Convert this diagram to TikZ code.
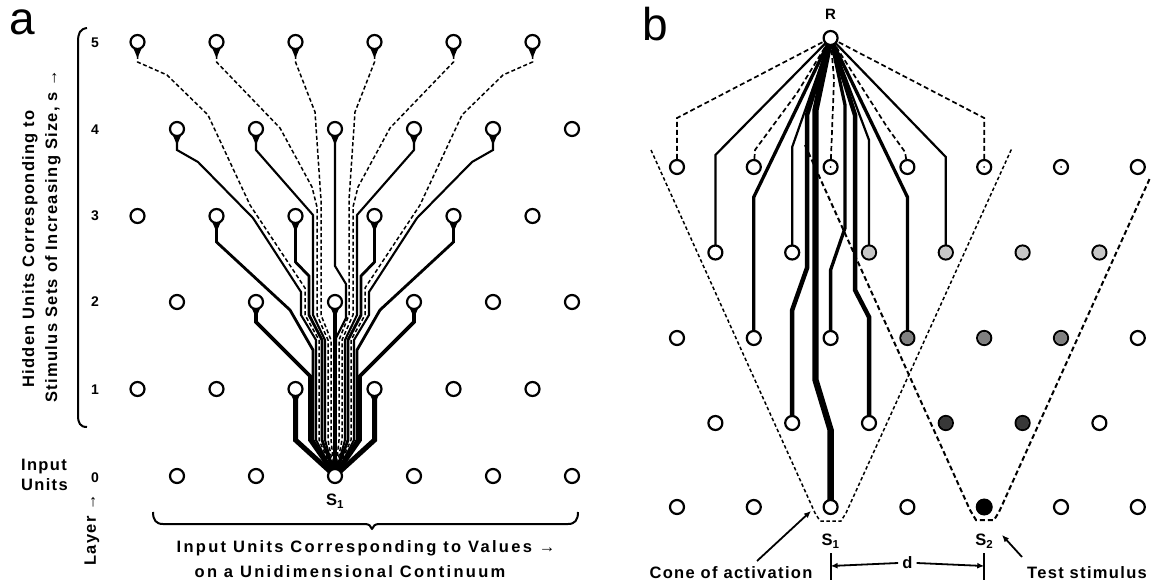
\documentclass[tikz,border=0pt]{standalone}
\usepackage{fontspec}
\setmainfont{Liberation Sans}
\newfontfamily\labfont[LetterSpace=8]{Liberation Sans}
\newfontfamily\labwide[LetterSpace=14]{Liberation Sans}
\usetikzlibrary{arrows.meta,backgrounds}
\pgfdeclarelayer{lines}
\pgfsetlayers{lines,main}
\tikzset{
 unit/.style={circle,draw,line width=2.2pt,minimum size=14pt,inner sep=0pt,fill=white},
 wA1/.style={line width=5pt},
 wA2/.style={line width=3.8pt},
 wA3/.style={line width=2.8pt},
 wA4/.style={line width=2.1pt},
 wA5/.style={line width=1.5pt,dash pattern=on 4pt off 2.5pt},
 wBA/.style={line width=1.7pt,dash pattern=on 5pt off 3pt},
 wBB/.style={line width=2.2pt},
 wBC/.style={line width=3.3pt},
 wBD/.style={line width=4.5pt},
 wBE/.style={line width=6.3pt},
 cone/.style={line width=1.5pt,dash pattern=on 3.5pt off 2.5pt},
 coneb/.style={line width=2pt,dash pattern=on 5pt off 3pt},
 lab/.style={font=\labfont\bfseries\fontsize{16.5}{20}\selectfont,inner sep=0pt},
 labw/.style={font=\labwide\bfseries\fontsize{16.5}{20}\selectfont,inner sep=0pt},
 num/.style={font=\bfseries\fontsize{14}{14}\selectfont,inner sep=0pt},
 ann/.style={line width=1.8pt,-{Latex[length=7pt,width=6pt]}},
}
\newcommand\mkpathsA[9]{%
 \draw[wA1] (#1.center) -- (295.5,440) -- (a02.center);
 \draw[wA2] (#2.center) -- (256,322) -- (310,376) -- (310,440) -- (a02.center);
 \draw[wA3] (#3.center) -- (216.5,242) -- (290,310) -- (313,350) -- (313,440) -- (a02.center);
 \draw[wA3] (#4.center) -- (295.5,262) -- (309,276) -- (309,315) -- (322,340) -- (322,440) -- (a02.center);
 \draw[wA4] (#5.center) -- (177,150) -- (198,162) -- (253,218) -- (301,292) -- (301,315) -- (316,340) -- (316,440) -- (a02.center);
 \draw[wA4] (#6.center) -- (256,150) -- (313,215) -- (313,315) -- (325,340) -- (325,440) -- (a02.center);
 \draw[wA5] (#7.center) -- (137.5,62) -- (167,75) -- (208,115) -- (250,205) -- (305,288) -- (305,315) -- (319,340) -- (319,440) -- (a02.center);
 \draw[wA5] (#8.center) -- (216.5,62) -- (280,128) -- (312,187) -- (317,207) -- (317,315) -- (328,340) -- (328,440) -- (a02.center);
 \draw[wA5] (#9.center) -- (295.5,62) -- (315,112) -- (321,200) -- (321,315) -- (331,340) -- (331,440) -- (a02.center);
}
\begin{document}
\begin{tikzpicture}[x=1pt,y=-1pt,line join=round]
\begin{pgfonlayer}{lines}
\fill[white] (0,0) rectangle (1155,585);
\end{pgfonlayer}
\useasboundingbox (0,0) rectangle (1155,585);

% ---------------- panel a : units ----------------
\foreach \s/\yy in {0/476,2/302,4/129}{
  \foreach \k in {0,...,5}{ \node[unit] (a\s\k) at ({177+79*\k},\yy) {}; }}
\foreach \s/\yy in {1/389,3/216,5/42}{
  \foreach \k in {0,...,5}{ \node[unit] (a\s\k) at ({137.5+79*\k},\yy) {}; }}

% arrowheads below connected hidden units
\foreach \n in {a12,a13,a21,a22,a23,a31,a32,a33,a34,a40,a41,a42,a43,a44,a50,a51,a52,a53,a54,a55}{
  \fill (\n.south) ++(-4,-1.5) -- ++(8,0) -- ++(-4,9.5) -- cycle;}

\begin{pgfonlayer}{lines}
\mkpathsA{a12}{a21}{a31}{a32}{a40}{a41}{a50}{a51}{a52}
\begin{scope}[shift={(670,0)},xscale=-1]
\mkpathsA{a13}{a23}{a34}{a33}{a44}{a43}{a55}{a54}{a53}
\end{scope}
\draw[wA2] (a22.center) -- (a02.center);
\draw[wA4] (a42.center) -- (335,266) -- (346,284) -- (346,318) -- (336,338) -- (a02.center);
\end{pgfonlayer}

% bracket and brace
\draw[line width=2pt] (87,28) .. controls (80,29) and (78,33) .. (78,42) -- (78,415) .. controls (78,423) and (80,427) .. (87,427);
\draw[line width=2pt] (153,512) .. controls (153,520) and (156,524) .. (163,524) -- (365,524) .. controls (369,524) and (371,526) .. (372,529) .. controls (373,526) and (375,524) .. (379,524) -- (568,524) .. controls (575,524) and (578,520) .. (578,512);

% texts panel a
\node[font=\fontsize{46}{46}\selectfont,inner sep=0pt] (la) at (22,22) {a};
\foreach \d/\yy in {5/43,4/130,3/216,2/302,1/390,0/478}{ \node[num] (n\d) at (95,\yy) {\d}; }
\node[lab,rotate=90] (t1) at (30,249) {Hidden Units Corresponding to};
\node[lab,rotate=90] (t2) at (53,236) {Stimulus Sets of Increasing Size, s →};
\node[lab,align=left,anchor=west] (t3) at (21,475) {Input\\Units};
\node[lab,rotate=90] (t4) at (92,530) {Layer →};
\node[labw] (t5) at (366,548) {Input Units Corresponding to Values →};
\node[labw] (t6) at (350,572) {on a Unidimensional Continuum};
\node[lab] (s1a) at (335,501) {S\textsubscript{1}};

% ---------------- panel b : units ----------------
\foreach \r/\yy in {A/167,C/338,E/507}{
  \foreach \k in {0,...,6}{ \node[unit] (b\r\k) at ({677+76.8*\k},\yy) {}; }}
\foreach \r/\yy in {B/252.5,D/423}{
  \foreach \k in {0,...,5}{ \node[unit] (b\r\k) at ({715.4+76.8*\k},\yy) {}; }}
\node[unit] (R) at (830.6,38) {};
\foreach \n in {bA2,bA4,bA5}{ \fill (\n.center) circle (1); }
\foreach \n in {bB2,bB3,bB4,bB5}{ \fill[black!22] (\n.center) circle (6); }
\foreach \n in {bC3,bC4,bC5}{ \fill[black!50] (\n.center) circle (6); }
\foreach \n in {bD3,bD4}{ \fill[black!78] (\n.center) circle (6.2); }
\fill (bE4.center) circle (8.5);

\begin{pgfonlayer}{lines}
% cones
\draw[cone] (651,150) -- (815,513) -- (820,521) -- (841,521) -- (846,513) -- (1012,148);
\draw[coneb] (805,145) -- (970,510) -- (976,520) -- (994,520) -- (999,512) -- (1150,178);
% connections to R
\draw[wBA] (bA0.center) -- (677,118) -- (R.center);
\draw[wBA] (bA1.center) -- (755,150) -- (797,93) -- (R.center);
\draw[wBA] (bA2.center) -- (834,80) -- (R.center);
\draw[wBA] (bA3.center) -- (905,152) -- (887,127) -- (R.center);
\draw[wBA] (bA4.center) -- (984.2,118) -- (R.center);
\draw[wBB] (bB0.center) -- (715.4,155) -- (R.center);
\draw[wBB] (bB1.center) -- (792.2,147) -- (R.center);
\draw[wBB] (bB2.center) -- (869,140) -- (R.center);
\draw[wBB] (bB3.center) -- (945.8,157) -- (R.center);
\draw[wBC] (bC1.center) -- (753.8,197) -- (R.center);
\draw[wBC] (bC2.center) -- (830.6,270) -- (845,228) -- (845,105) -- (R.center);
\draw[wBC] (bC3.center) -- (907.4,197) -- (R.center);
\draw[wBD] (bD1.center) -- (792.2,310) -- (807,268) -- (807,115) -- (R.center);
\draw[wBD] (bD2.center) -- (869,317) -- (855,290) -- (855,115) -- (R.center);
\draw[wBE] (bE2.center) -- (830.6,430) -- (815.5,380) -- (815.5,110) -- (R.center);
\end{pgfonlayer}

% texts panel b
\node[font=\fontsize{46}{46}\selectfont,inner sep=0pt] (lb) at (655,24) {b};
\node[num,font=\bfseries\fontsize{15}{15}\selectfont] (lR) at (830.6,14) {R};
\node[lab] (s1b) at (830.6,541) {S\textsubscript{1}};
\node[lab] (s2b) at (984.2,541) {S\textsubscript{2}};
\node[lab] (dd) at (907.4,563) {d};
\coordinate (tl) at (830.6,566);
\coordinate (tr) at (984.2,566);
\draw[line width=1.8pt] (830.6,553) -- (830.6,580);
\draw[line width=1.8pt] (984.2,553) -- (984.2,580);
\draw[ann] (dd.west) ++(-4,0) -- (tl);
\draw[ann] (dd.east) ++(4,0) -- (tr);
\node[lab] (coa) at (731,573) {Cone of activation};
\coordinate (coaS) at (757,561);
\coordinate (coneL) at (811,511);
\draw[ann] (coaS) -- (coneL);
\node[lab] (ts) at (1087,573) {Test stimulus};
\coordinate (tsS) at (1022,557);
\coordinate (s2pt) at (1002,535);
\draw[ann] (tsS) -- (s2pt);
\end{tikzpicture}
\end{document}
